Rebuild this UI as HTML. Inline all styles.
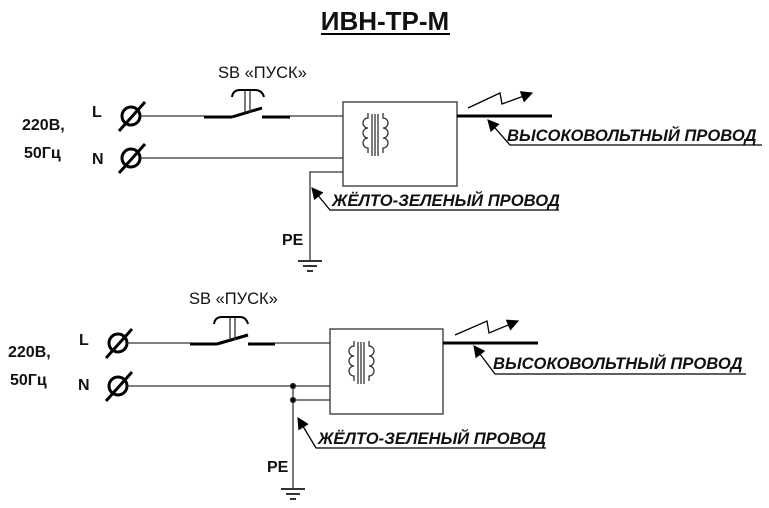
<!DOCTYPE html>
<html><head><meta charset="utf-8"><style>
html,body{margin:0;padding:0;background:#fff;}
svg{display:block;}
text{font-family:"Liberation Sans","DejaVu Sans",sans-serif;fill:#111;}
.b{font-weight:bold;font-size:16px;}
.i{font-weight:bold;font-style:italic;font-size:16.6px;}
.s{font-size:16.5px;}
</style></head><body>
<svg width="769" height="508" viewBox="0 0 769 508" xmlns="http://www.w3.org/2000/svg">
<defs>
<marker id="ah2" viewBox="0 0 10 10" refX="9" refY="5" markerWidth="14" markerHeight="12" orient="auto" markerUnits="userSpaceOnUse"><path d="M0,0 L10,5 L0,10 z" fill="#000"/></marker>
</defs>
<text x="385" y="30" text-anchor="middle" style="font-weight:bold;font-size:26px;">ИВН-ТР-М</text>
<line x1="321" y1="34" x2="450" y2="34" stroke="#000" stroke-width="2"/>

<!-- TOP -->
<g stroke="#333" fill="none" stroke-width="1.3">
<text x="22" y="130" class="b" stroke="none">220В,</text>
<text x="24" y="158" class="b" stroke="none">50Гц</text>
<text x="92" y="117" class="b" stroke="none">L</text>
<text x="92" y="164" class="b" stroke="none">N</text>
<circle cx="131" cy="116" r="9" stroke="#000" stroke-width="3"/>
<line x1="119" y1="131" x2="145" y2="102" stroke="#000" stroke-width="3"/>
<circle cx="131" cy="158" r="9" stroke="#000" stroke-width="3"/>
<line x1="119" y1="173" x2="145" y2="144" stroke="#000" stroke-width="3"/>
<line x1="140" y1="116" x2="204" y2="116"/>
<line x1="204" y1="117" x2="232" y2="117" stroke="#000" stroke-width="3"/>
<line x1="232" y1="117" x2="262" y2="108" stroke="#000" stroke-width="3"/>
<line x1="262" y1="117" x2="290" y2="117" stroke="#000" stroke-width="3"/>
<line x1="290" y1="116" x2="343" y2="116"/>
<line x1="245" y1="91" x2="245" y2="113"/><line x1="250" y1="91" x2="250" y2="113"/>
<path d="M232,97 Q233,90 240,90 L255,90 Q262,90 264,97" stroke="#000" stroke-width="2"/>
<text x="218" y="78" class="s" stroke="none">SB «ПУСК»</text>
<line x1="140" y1="158" x2="343" y2="158"/>
<rect x="343" y="102" width="114" height="84"/>
<path d="M372,114 v42 M375,114 v42 M378,114 v42"/>
<path d="M368,113 v5 a5,5 0 0 0 0,10 a5,5 0 0 0 0,10 a5,5 0 0 0 0,10 v5 M383,113 v5 a5,5 0 0 1 0,10 a5,5 0 0 1 0,10 a5,5 0 0 1 0,10 v5"/>
<polyline points="343,172 310,172 310,260"/>
<line x1="298" y1="261" x2="322" y2="261" stroke-width="2"/>
<line x1="303" y1="266" x2="317" y2="266" stroke-width="2"/>
<line x1="307" y1="271" x2="313" y2="271" stroke-width="2"/>
<text x="282" y="245" class="b" stroke="none">PE</text>
<polyline points="559,210 330,210 312,188" stroke="#000" marker-end="url(#ah2)"/>
<text x="332" y="206" class="i" stroke="none">ЖЁЛТО-ЗЕЛЕНЫЙ ПРОВОД</text>
<line x1="457" y1="116" x2="552" y2="116" stroke="#000" stroke-width="3"/>
<polyline points="468,108 500,93 502,104 532,93" stroke="#000" marker-end="url(#ah2)"/>
<polyline points="762,145 510,145 488,120" stroke="#000" marker-end="url(#ah2)"/>
<text x="507" y="141" class="i" stroke="none">ВЫСОКОВОЛЬТНЫЙ ПРОВОД</text>
</g>

<!-- BOTTOM -->
<g stroke="#333" fill="none" stroke-width="1.3">
<text x="8" y="357" class="b" stroke="none">220В,</text>
<text x="10" y="385" class="b" stroke="none">50Гц</text>
<text x="79" y="345" class="b" stroke="none">L</text>
<text x="78" y="390" class="b" stroke="none">N</text>
<circle cx="118" cy="343" r="9" stroke="#000" stroke-width="3"/>
<line x1="106" y1="358" x2="132" y2="329" stroke="#000" stroke-width="3"/>
<circle cx="118" cy="386" r="9" stroke="#000" stroke-width="3"/>
<line x1="106" y1="401" x2="132" y2="372" stroke="#000" stroke-width="3"/>
<line x1="127" y1="343" x2="190" y2="343"/>
<line x1="190" y1="344" x2="217" y2="344" stroke="#000" stroke-width="3"/>
<line x1="217" y1="344" x2="248" y2="335" stroke="#000" stroke-width="3"/>
<line x1="248" y1="344" x2="275" y2="344" stroke="#000" stroke-width="3"/>
<line x1="275" y1="343" x2="330" y2="343"/>
<line x1="230" y1="318" x2="230" y2="340"/><line x1="235" y1="318" x2="235" y2="340"/>
<path d="M214,324 Q215,317 222,317 L240,317 Q246,317 248,324" stroke="#000" stroke-width="2"/>
<text x="189" y="304" class="s" stroke="none">SB «ПУСК»</text>
<line x1="127" y1="386" x2="330" y2="386"/>
<line x1="293" y1="400" x2="330" y2="400"/>
<rect x="330" y="329" width="113" height="85"/>
<path d="M358,342 v42 M361,342 v42 M364,342 v42"/>
<path d="M354,341 v5 a5,5 0 0 0 0,10 a5,5 0 0 0 0,10 a5,5 0 0 0 0,10 v5 M369,341 v5 a5,5 0 0 1 0,10 a5,5 0 0 1 0,10 a5,5 0 0 1 0,10 v5"/>
<line x1="293" y1="386" x2="293" y2="488"/>
<circle cx="293" cy="386" r="2.5" fill="#000"/>
<circle cx="293" cy="400" r="2.5" fill="#000"/>
<line x1="281" y1="489" x2="305" y2="489" stroke-width="2"/>
<line x1="286" y1="494" x2="300" y2="494" stroke-width="2"/>
<line x1="290" y1="499" x2="296" y2="499" stroke-width="2"/>
<text x="267" y="472" class="b" stroke="none">PE</text>
<polyline points="546,448 316,448 298,418" stroke="#000" marker-end="url(#ah2)"/>
<text x="318" y="444" class="i" stroke="none">ЖЁЛТО-ЗЕЛЕНЫЙ ПРОВОД</text>
<line x1="443" y1="343" x2="538" y2="343" stroke="#000" stroke-width="3"/>
<polyline points="455,335 487,321 489,333 518,321" stroke="#000" marker-end="url(#ah2)"/>
<polyline points="746,374 495,374 474,346" stroke="#000" marker-end="url(#ah2)"/>
<text x="493" y="369" class="i" stroke="none">ВЫСОКОВОЛЬТНЫЙ ПРОВОД</text>
</g>
</svg>
</body></html>
